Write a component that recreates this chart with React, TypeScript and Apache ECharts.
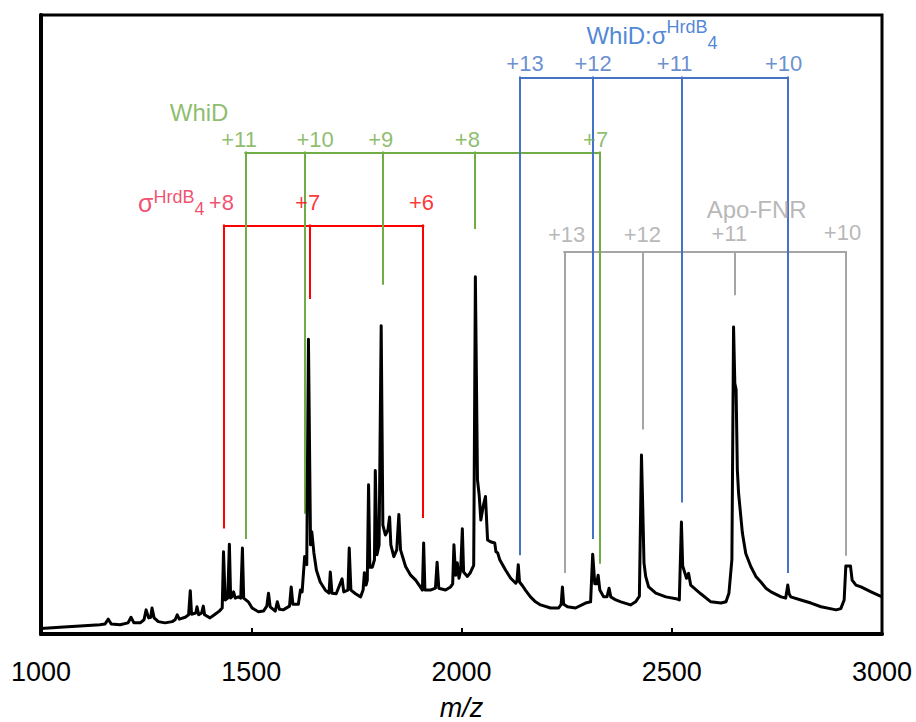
import React, { useEffect, useRef } from "react";
import * as echarts from "echarts";

// ---------- data ----------
const spectrum: [number, number][] = [
  [1000, 0.9], [1045, 1.1], [1093, 1.3], [1140, 1.5], [1152, 1.6], [1160, 2.4], [1167, 1.6], [1188, 1.5],
  [1207, 1.8], [1214, 2.7], [1221, 1.8], [1236, 1.8], [1245, 2.3], [1250, 3.9], [1256, 2.6], [1261, 2.7],
  [1264, 4.2], [1269, 2.6], [1279, 2.0], [1295, 1.8], [1312, 2.0], [1319, 2.3], [1324, 3.1], [1329, 2.4],
  [1343, 2.7], [1351, 3.1], [1355, 7.0], [1358, 3.2], [1368, 3.4], [1371, 4.4], [1375, 3.1], [1382, 3.4],
  [1386, 4.5], [1389, 3.1], [1402, 2.6], [1414, 3.2], [1424, 3.7], [1431, 4.2], [1434, 13.3], [1438, 5.5],
  [1444, 5.8], [1448, 14.5], [1451, 5.8], [1455, 6.1], [1458, 6.8], [1462, 5.8], [1469, 6.0], [1475, 5.8],
  [1479, 13.9], [1482, 5.8], [1493, 5.2], [1502, 4.2], [1517, 3.6], [1529, 3.7], [1537, 4.5], [1541, 6.6],
  [1545, 4.4], [1557, 3.7], [1562, 5.2], [1567, 4.0], [1576, 3.9], [1591, 4.5], [1595, 7.6], [1599, 4.8],
  [1612, 4.8], [1617, 7.1], [1621, 6.8], [1627, 12.5], [1632, 11.2], [1636, 47.6], [1641, 14.4], [1644, 16.5],
  [1649, 13.1], [1655, 10.3], [1664, 8.4], [1676, 7.1], [1685, 6.6], [1688, 10.0], [1692, 6.6], [1702, 6.5],
  [1716, 8.9], [1720, 6.8], [1730, 7.1], [1733, 13.9], [1737, 7.1], [1748, 6.5], [1760, 6.0], [1766, 7.1],
  [1769, 9.9], [1773, 7.9], [1776, 8.7], [1779, 24.1], [1782, 10.8], [1788, 10.8], [1793, 12.0], [1795, 26.4],
  [1799, 12.8], [1804, 14.4], [1809, 49.8], [1813, 17.6], [1819, 16.0], [1825, 16.8], [1829, 18.9], [1832, 14.4],
  [1839, 12.5], [1846, 13.6], [1851, 19.3], [1855, 13.6], [1867, 10.9], [1879, 9.5], [1891, 8.7], [1902, 7.6],
  [1907, 7.1], [1910, 14.7], [1913, 7.1], [1926, 7.1], [1938, 7.4], [1942, 11.6], [1946, 7.4], [1962, 7.1],
  [1974, 7.6], [1979, 8.1], [1982, 14.4], [1986, 9.5], [1990, 11.5], [1994, 9.0], [1998, 10.3], [2002, 17.0],
  [2005, 10.0], [2014, 9.3], [2021, 9.9], [2029, 11.1], [2033, 57.7], [2038, 24.9], [2042, 22.5], [2046, 18.4],
  [2052, 20.8], [2057, 22.2], [2062, 15.2], [2069, 14.9], [2079, 14.7], [2082, 13.3], [2086, 13.1], [2091, 12.0],
  [2105, 10.3], [2117, 9.0], [2129, 8.2], [2132, 8.6], [2135, 11.2], [2138, 8.4], [2145, 7.8], [2152, 7.1],
  [2164, 6.0], [2176, 5.2], [2188, 4.7], [2212, 4.2], [2231, 4.2], [2237, 4.8], [2240, 7.6], [2243, 4.8],
  [2252, 4.4], [2271, 4.2], [2295, 5.0], [2307, 5.2], [2312, 12.9], [2317, 8.1], [2321, 8.1], [2325, 9.5],
  [2329, 7.1], [2338, 6.0], [2346, 6.0], [2351, 7.4], [2355, 6.0], [2367, 5.5], [2379, 5.2], [2402, 4.7],
  [2414, 5.2], [2423, 6.1], [2428, 28.9], [2431, 20.5], [2434, 11.5], [2438, 9.3], [2445, 7.6], [2462, 6.6],
  [2486, 6.0], [2510, 5.7], [2518, 5.5], [2523, 18.1], [2526, 11.0], [2535, 9.0], [2540, 9.8], [2545, 7.9],
  [2569, 6.5], [2593, 5.2], [2617, 5.0], [2629, 5.2], [2636, 6.6], [2643, 12.0], [2647, 49.6], [2650, 40.5],
  [2653, 39.5], [2656, 26.5], [2659, 22.7], [2668, 16.3], [2676, 13.0], [2688, 10.9], [2700, 9.3], [2712, 8.4],
  [2724, 7.4], [2736, 6.8], [2760, 6.0], [2771, 5.8], [2776, 7.9], [2779, 6.5], [2783, 6.0], [2807, 5.5],
  [2831, 5.0], [2855, 4.4], [2891, 3.9], [2902, 4.1], [2910, 5.5], [2914, 11.0], [2925, 11.0], [2929, 8.7],
  [2938, 7.9], [2950, 7.6], [2974, 6.8], [3000, 6.0],
];

const xTicks = [1000, 1500, 2000, 2500, 3000];

// Apo-FNR
const fnrMz = [2244.5, 2430, 2651, 2913.5];
const fnrTip = [10.0, 33.2, 54.9, 12.8];
const fnrBar = 61.7;
const fnrCharges = ["+13", "+12", "+11", "+10"];
const fnrLabelMz = [2250, 2430, 2637, 2906];
const fnrLabelY = [64.5, 64.5, 64.7, 64.9];
const fnrTitle = "Apo-FNR";
const fnrTitlePos = [2702, 68.6];

// sigma HrdB4
const sigMz = [1435, 1639, 1909];
const sigTip = [17.2, 54.3, 18.9];
const sigBar = 66.0;
const sigCharges = ["+8", "+7", "+6"];
const sigLabelMz = [1429, 1634, 1905];
const sigLabelY = 69.7;
const sigTitlePos = [1389, 69.7];

// WhiD
const whidMz = [1486, 1628, 1812, 2032, 2329];
const whidTip = [15.5, 19.6, 56.6, 65.6, 11.5];
const whidBar = 77.8;
const whidCharges = ["+11", "+10", "+9", "+8", "+7"];
const whidLabelMz = [1471, 1652, 1808, 2014, 2319];
const whidLabelY = 79.9;
const whidTitle = "WhiD";
const whidTitlePos = [1376, 84.2];

// WhiD:sigma HrdB4 complex
const cplxMz = [2139, 2311, 2524.5, 2775.5];
const cplxTip = [12.9, 15.5, 21.4, 10.0];
const cplxBar = 89.9;
const cplxCharges = ["+13", "+12", "+11", "+10"];
const cplxLabelMz = [2151, 2313, 2507, 2766];
const cplxLabelY = 92.1;
const cplxTitlePos = [2297, 96.7];

// ---------- styles ----------
const FONT = "'Liberation Sans', Arial, Helvetica, sans-serif";
const GREEN = "#70ad47";
const RED = "#ff0000";
const RED_TXT = "#ee1f4b";
const BLUE = "#4472c4";
const BLUE_TXT = "#1f68cc";
const GRAY = "#a5a5a5";

function bracketSeries(name: string, color: string, mz: number[], tip: number[], bar: number, z: number) {
  const segs: any[] = [[{ coord: [mz[0], bar] }, { coord: [mz[mz.length - 1], bar] }]];
  mz.forEach((m, i) => segs.push([{ coord: [m, bar] }, { coord: [m, tip[i]] }]));
  return {
    name,
    type: "line",
    data: [],
    z,
    silent: true,
    markLine: {
      silent: true,
      symbol: ["none", "none"],
      label: { show: false },
      emphasis: { disabled: true },
      lineStyle: { color, width: 2, type: "solid", cap: "square" },
      data: segs,
    },
  };
}

function labelSeries(name: string, items: any[], z: number) {
  return {
    name,
    type: "scatter",
    symbolSize: 1,
    itemStyle: { color: "rgba(0,0,0,0)" },
    silent: true,
    z,
    data: items,
  };
}

function numLabel(text: string, x: number, y: number, color: string) {
  return {
    value: [x, y],
    name: text,
    label: {
      show: true,
      position: "inside",
      formatter: "{b}",
      color,
      fontSize: 22,
      fontFamily: FONT,
      align: "center",
      verticalAlign: "middle",
    },
  };
}

export default function App() {
  const ref = useRef<HTMLDivElement>(null);
  useEffect(() => {
    if (!ref.current) return;
    const chart = echarts.init(ref.current, null, { renderer: "svg" });

    const fnrItems = fnrCharges.map((c, i) => numLabel(c, fnrLabelMz[i], fnrLabelY[i], GRAY));
    fnrItems.push({
      value: fnrTitlePos,
      name: fnrTitle,
      label: { show: true, position: "inside", formatter: "{b}", color: GRAY, fontSize: 24, fontFamily: FONT, align: "center", verticalAlign: "middle" },
    } as any);

    const sigItems = sigCharges.map((c, i) => numLabel(c, sigLabelMz[i], sigLabelY, i === 0 ? RED_TXT : RED));
    sigItems.push({
      value: sigTitlePos,
      name: "σHrdB4",
      label: {
        show: true,
        position: "inside",
        align: "right",
        verticalAlign: "middle",
        formatter: "{m|σ}{sup|HrdB}{sub|4}",
        rich: {
          m: { fontSize: 25, lineHeight: 30, color: RED_TXT, fontFamily: FONT },
          sup: { fontSize: 18, lineHeight: 24, verticalAlign: "top", color: RED_TXT, fontFamily: FONT },
          sub: { fontSize: 18, lineHeight: 13, verticalAlign: "bottom", color: RED_TXT, fontFamily: FONT },
        },
      },
    } as any);

    const whidItems = whidCharges.map((c, i) => numLabel(c, whidLabelMz[i], whidLabelY, GREEN));
    whidItems.push({
      value: whidTitlePos,
      name: whidTitle,
      label: { show: true, position: "inside", formatter: "{b}", color: GREEN, fontSize: 24, fontFamily: FONT, align: "center", verticalAlign: "middle" },
    } as any);

    const cplxItems = cplxCharges.map((c, i) => numLabel(c, cplxLabelMz[i], cplxLabelY, BLUE));
    cplxItems.push({
      value: cplxTitlePos,
      name: "WhiD:σHrdB4",
      label: {
        show: true,
        position: "inside",
        align: "left",
        verticalAlign: "middle",
        formatter: "{m|WhiD:σ}{sup|HrdB}{sub|4}",
        rich: {
          m: { fontSize: 24, lineHeight: 34, color: BLUE_TXT, fontFamily: FONT },
          sup: { fontSize: 18, lineHeight: 17, verticalAlign: "top", color: BLUE_TXT, fontFamily: FONT },
          sub: { fontSize: 18, lineHeight: 17, verticalAlign: "bottom", color: BLUE_TXT, fontFamily: FONT },
        },
      },
    } as any);

    chart.setOption({
      animation: false,
      backgroundColor: "#ffffff",
      grid: {
        left: 41,
        right: 34,
        top: 15,
        bottom: 88,
        containLabel: false,
        outerBoundsMode: "none",
        show: true,
        borderColor: "#000",
        borderWidth: 3,
        backgroundColor: "transparent",
      },
      xAxis: {
        type: "value",
        min: xTicks[0],
        max: xTicks[xTicks.length - 1],
        interval: 500,
        name: "m/z",
        nameLocation: "middle",
        nameGap: 60,
        nameTextStyle: { fontSize: 27, fontStyle: "italic", color: "#000", fontFamily: FONT },
        axisLine: { show: true, lineStyle: { color: "#000", width: 4 } },
        axisTick: { show: true, inside: true, length: 6, lineStyle: { color: "#000", width: 2 } },
        axisLabel: {
          fontSize: 27,
          color: "#000",
          margin: 24,
          fontFamily: FONT,
          showMinLabel: true,
          showMaxLabel: true,
          formatter: (v: number) => String(v),
        },
        splitLine: { show: false },
      },
      yAxis: {
        type: "value",
        min: 0,
        max: 100,
        axisLine: { show: true, lineStyle: { color: "#000", width: 4 } },
        axisTick: { show: false },
        axisLabel: { show: false },
        splitLine: { show: false },
      },
      series: [
        bracketSeries("fnr", GRAY, fnrMz, fnrTip, fnrBar, 2),
        bracketSeries("sig", RED, sigMz, sigTip, sigBar, 3),
        bracketSeries("whid", GREEN, whidMz, whidTip, whidBar, 4),
        bracketSeries("cplx", BLUE, cplxMz, cplxTip, cplxBar, 5),
        {
          name: "spectrum",
          type: "line",
          data: spectrum,
          showSymbol: false,
          symbol: "none",
          silent: true,
          z: 6,
          lineStyle: { color: "#000", width: 3, join: "round" },
        },
        labelSeries("fnrLabels", fnrItems, 7),
        labelSeries("sigLabels", sigItems, 7),
        labelSeries("whidLabels", whidItems, 7),
        labelSeries("cplxLabels", cplxItems, 7),
      ],
    });
    return () => chart.dispose();
  }, []);
  return (
    <div
      ref={ref}
      style={{ position: "fixed", left: 0, top: 0, width: 916, height: 722, background: "#fff" }}
    />
  );
}
